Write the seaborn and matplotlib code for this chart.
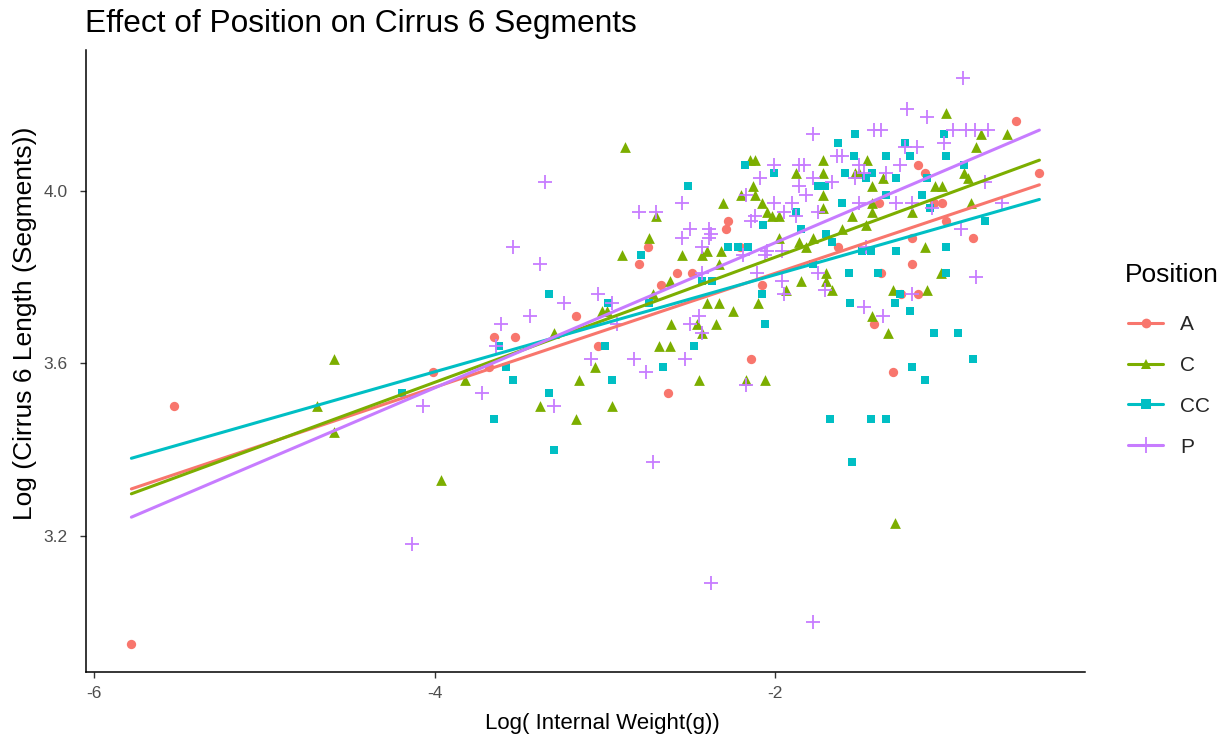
import numpy as np
import pandas as pd
import matplotlib
matplotlib.use("Agg")
import matplotlib.pyplot as plt
from matplotlib.lines import Line2D
import seaborn as sns

# values
a_x = [-5.78, -5.53, -4.01, -3.68, -3.65, -3.53, -3.17, -2.75, -2.80, -2.58, -2.49, -2.67,
       -3.04, -2.63, -2.14, -2.21, -2.08, -1.63, -2.28, -2.29, -0.59, -1.16, -1.12, -0.45,
       -1.39, -1.07, -1.02, -1.00, -1.20, -0.84, -1.38, -1.20, -1.26, -1.16, -1.42, -1.31]
a_y = [2.95, 3.50, 3.58, 3.59, 3.66, 3.66, 3.71, 3.87, 3.83, 3.81, 3.81, 3.78,
       3.64, 3.53, 3.61, 3.87, 3.78, 3.87, 3.93, 3.91, 4.16, 4.06, 4.04, 4.04,
       3.97, 3.97, 3.97, 3.93, 3.89, 3.89, 3.81, 3.83, 3.76, 3.76, 3.69, 3.58]

c_x = [-4.59, -4.69, -4.59, -3.96, -3.82, -3.38, -3.30, -2.88, -2.70, -2.74, -2.90, -2.55,
       -2.43, -2.62, -2.72, -3.02, -2.99, -2.61, -2.46, -2.40, -2.35, -2.43, -2.68, -2.62,
       -3.06, -3.15, -2.45, -2.96, -3.17, -2.15, -2.12, -2.31, -2.20, -2.13, -2.12, -2.08,
       -2.05, -2.02, -1.98, -1.88, -1.72, -1.72, -1.72, -1.72, -1.98, -1.86, -1.78, -1.61,
       -1.55, -1.53, -2.32, -2.40, -2.33, -1.82, -1.70, -1.70, -1.67, -1.85, -1.94, -2.10,
       -2.33, -2.25, -2.17, -2.06, -1.00, -0.79, -0.82, -1.46, -1.51, -1.37, -1.43, -1.06,
       -1.02, -0.87, -0.89, -1.43, -1.43, -1.20, -0.85, -1.12, -1.03, -1.31, -1.11, -1.43,
       -1.34, -1.47, -1.30, -0.64]
c_y = [3.61, 3.50, 3.44, 3.33, 3.56, 3.50, 3.67, 4.10, 3.94, 3.89, 3.85, 3.85,
       3.85, 3.79, 3.76, 3.72, 3.72, 3.69, 3.69, 3.74, 3.69, 3.67, 3.64, 3.64,
       3.59, 3.56, 3.56, 3.50, 3.47, 4.07, 4.07, 3.97, 3.99, 4.01, 3.99, 3.97,
       3.95, 3.94, 3.94, 4.04, 4.07, 4.04, 3.99, 3.96, 3.89, 3.88, 3.89, 3.91,
       3.94, 4.04, 3.86, 3.86, 3.83, 3.87, 3.81, 3.79, 3.77, 3.79, 3.77, 3.74,
       3.74, 3.72, 3.56, 3.56, 4.18, 4.13, 4.10, 4.07, 4.04, 4.03, 4.01, 4.01,
       4.01, 4.03, 4.04, 3.97, 3.95, 3.95, 3.97, 3.87, 3.81, 3.77, 3.77, 3.71,
       3.67, 3.92, 3.23, 4.13]

cc_x = [-4.19, -3.33, -3.62, -3.58, -3.54, -3.33, -3.65, -2.51, -2.79, -2.98, -2.74, -2.43,
        -2.37, -3.00, -2.96, -3.30, -2.66, -2.48, -2.18, -2.01, -1.53, -1.63, -1.54, -1.59,
        -1.75, -1.71, -1.61, -1.88, -2.07, -1.85, -1.70, -2.28, -2.22, -2.16, -1.67, -1.57,
        -1.56, -2.08, -2.06, -1.78, -1.68, -1.24, -1.01, -1.35, -1.21, -1.00, -0.89, -1.43,
        -1.47, -1.29, -1.11, -1.14, -1.35, -0.77, -1.09, -1.00, -1.29, -1.49, -1.44, -1.40,
        -1.00, -1.27, -1.30, -1.21, -1.07, -0.93, -0.84, -1.20, -1.12, -1.44, -1.35, -1.55]
cc_y = [3.53, 3.76, 3.64, 3.59, 3.56, 3.53, 3.47, 4.01, 3.85, 3.74, 3.74, 3.79,
        3.79, 3.64, 3.56, 3.40, 3.59, 3.64, 4.06, 4.04, 4.13, 4.11, 4.08, 4.04,
        4.01, 4.01, 3.97, 3.95, 3.92, 3.91, 3.90, 3.87, 3.87, 3.87, 3.88, 3.81,
        3.74, 3.76, 3.69, 3.83, 3.47, 4.11, 4.13, 4.08, 4.08, 4.08, 4.06, 4.04,
        4.03, 4.03, 4.03, 3.99, 3.99, 3.93, 3.96, 3.87, 3.86, 3.86, 3.86, 3.81,
        3.81, 3.76, 3.74, 3.72, 3.67, 3.67, 3.61, 3.59, 3.56, 3.47, 3.47, 3.37]

p_x = [-4.13, -4.07, -3.35, -3.54, -3.38, -3.44, -3.61, -3.64, -3.72, -3.30, -2.80, -2.70,
       -2.55, -2.50, -2.55, -2.39, -2.39, -2.43, -3.24, -3.04, -2.96, -2.43, -2.45, -3.08,
       -2.83, -2.76, -2.53, -2.72, -2.38, -2.50, -2.43, -2.93, -1.78, -1.64, -1.61, -2.01,
       -1.86, -1.83, -1.78, -1.67, -2.09, -2.17, -1.82, -1.86, -2.01, -1.90, -1.95, -2.12,
       -2.14, -1.75, -1.88, -2.38, -2.05, -1.53, -2.19, -2.06, -1.96, -1.75, -1.71, -1.96,
       -1.95, -2.11, -2.17, -0.90, -1.23, -1.11, -1.42, -1.38, -0.96, -0.88, -0.83, -0.75,
       -1.01, -1.24, -1.17, -1.27, -1.51, -1.48, -1.35, -0.77, -1.51, -1.29, -1.20, -1.08,
       -0.67, -0.91, -0.82, -1.20, -1.48, -1.37, -1.47, -1.78]
p_y = [3.18, 3.50, 4.02, 3.87, 3.83, 3.71, 3.69, 3.64, 3.53, 3.50, 3.95, 3.95,
       3.97, 3.91, 3.89, 3.91, 3.89, 3.87, 3.74, 3.76, 3.74, 3.81, 3.71, 3.61,
       3.61, 3.58, 3.61, 3.37, 3.09, 3.69, 3.67, 3.69, 4.13, 4.08, 4.08, 4.06,
       4.06, 4.06, 4.03, 4.02, 4.03, 3.99, 3.99, 4.01, 3.97, 3.97, 3.95, 3.94,
       3.93, 3.95, 3.94, 3.90, 3.86, 4.03, 3.85, 3.85, 3.86, 3.81, 3.77, 3.79,
       3.76, 3.81, 3.55, 4.26, 4.19, 4.17, 4.14, 4.14, 4.14, 4.14, 4.14, 4.14,
       4.11, 4.10, 4.10, 4.06, 4.06, 4.04, 4.04, 4.02, 3.97, 3.97, 3.97, 3.96,
       3.97, 3.91, 3.80, 3.76, 3.73, 3.71, 3.87, 3.00]

positions = ["A", "C", "CC", "P"]
colors = ["#F8766D", "#7CAE00", "#00BFC4", "#C77CFF"]
markers = ["o", "^", "s", "+"]
sizes = [45, 60, 40, 110]

df = pd.concat([
    pd.DataFrame({"x": a_x, "y": a_y, "Position": "A"}),
    pd.DataFrame({"x": c_x, "y": c_y, "Position": "C"}),
    pd.DataFrame({"x": cc_x, "y": cc_y, "Position": "CC"}),
    pd.DataFrame({"x": p_x, "y": p_y, "Position": "P"}),
], ignore_index=True)

sns.set_theme(style="white")
plt.rcParams["font.family"] = ["Liberation Sans", "DejaVu Sans"]
plt.rcParams["axes.unicode_minus"] = False

fig = plt.figure(figsize=(12.23, 7.42), dpi=100)
ax = fig.add_axes([0.0703, 0.0943, 0.8167, 0.8383])

for pos, col, mk, sz in zip(positions, colors, markers, sizes):
    sub = df[df.Position == pos]
    if mk == "+":
        sns.scatterplot(data=sub, x="x", y="y", ax=ax, color=col, marker=mk,
                        s=sz, linewidth=1.3, zorder=3)
    else:
        sns.scatterplot(data=sub, x="x", y="y", ax=ax, color=col, marker=mk,
                        s=sz, linewidth=0, zorder=3)

# fit lines span the full data range (like fullrange=TRUE)
xmin, xmax = df.x.min(), df.x.max()
ax.set_xlim(xmin, xmax)
for pos, col in zip(positions, colors):
    sub = df[df.Position == pos]
    sns.regplot(data=sub, x="x", y="y", ax=ax, scatter=False, ci=None,
                truncate=False, color=col, line_kws={"lw": 2.2, "zorder": 4})

xr = xmax - xmin
ymin, ymax = df.y.min(), df.y.max()
yr = ymax - ymin
ax.set_xlim(xmin - 0.05 * xr, xmax + 0.05 * xr)
ax.set_ylim(ymin - 0.05 * yr, ymax + 0.05 * yr)

ax.set_xticks([-6, -4, -2])
ax.set_yticks([3.2, 3.6, 4.0])
ax.set_yticklabels(["3.2", "3.6", "4.0"])
ax.tick_params(axis="both", colors="#333333", labelsize=12.5, length=4, width=1,
               direction="out", bottom=True, left=True)
ax.tick_params(axis="x", pad=6)
ax.tick_params(axis="y", pad=9)
ax.tick_params(axis="both", labelcolor="#4D4D4D")
for s in ["top", "right"]:
    ax.spines[s].set_visible(False)
for s in ["left", "bottom"]:
    ax.spines[s].set_color("black")
    ax.spines[s].set_linewidth(1.1)

ax.set_xlabel("Log( Internal Weight(g))", fontsize=16, color="black")
ax.xaxis.set_label_coords(0.5175, -0.066)
ax.set_ylabel("Log (Cirrus 6 Length (Segments))", fontsize=19, color="black")
ax.yaxis.set_label_coords(-0.049, 0.56)
ax.set_title("Effect of Position on Cirrus 6 Segments", fontsize=22.8, loc="left",
             x=-0.001, pad=13, color="black")

handles = [Line2D([0], [0], color=col, lw=2.2, marker=mk,
                  markersize=7 if mk != "+" else 11,
                  markeredgewidth=0 if mk != "+" else 1.3)
           for col, mk in zip(colors, markers)]
leg = ax.legend(handles, positions, loc="upper left",
                bbox_to_anchor=(1128 / 1223, 1 - 315 / 742),
                bbox_transform=fig.transFigure, frameon=False, fontsize=15,
                handlelength=1.7, handletextpad=0.8,
                labelspacing=1.05, borderpad=0, borderaxespad=0)
fig.text(1125 / 1223, 1 - 275 / 742, "Position", fontsize=19, color="black",
         ha="left", va="center")

fig.savefig("out.png", dpi=100)
